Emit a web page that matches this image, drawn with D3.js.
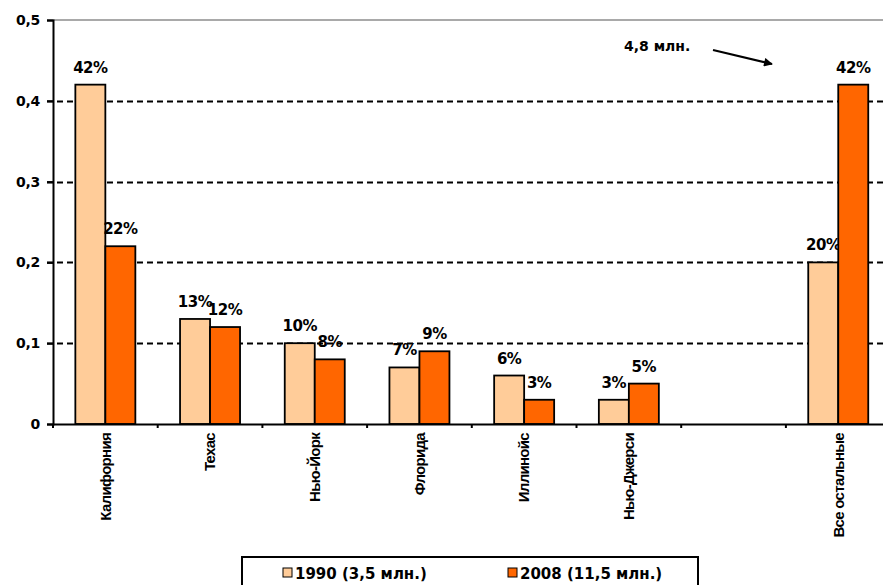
<!DOCTYPE html>
<html>
<head>
<meta charset="utf-8">
<script src="https://cdn.jsdelivr.net/npm/d3@7"></script>
<style>
  html, body { margin: 0; padding: 0; background: #fff; }
  svg { display: block; }
  text { font-family: "DejaVu Sans", "Liberation Sans", Arial, sans-serif; font-weight: bold; fill: #000; }
</style>
</head>
<body>
<svg id="chart" width="883" height="585"></svg>
<script>
const categories = ["Калифорния", "Техас", "Нью-Йорк", "Флорида", "Иллинойс", "Нью-Джерси", "", "Все остальные"];
const values1990 = [0.42, 0.13, 0.10, 0.07, 0.06, 0.03, null, 0.20];
const values2008 = [0.22, 0.12, 0.08, 0.09, 0.03, 0.05, null, 0.42];
const seriesNames = ["1990 (3,5 млн.)", "2008 (11,5 млн.)"];
const seriesColors = ["#FFCC99", "#FF6600"];
const yTicks = [0, 0.1, 0.2, 0.3, 0.4, 0.5];
const yTickLabels = ["0", "0,1", "0,2", "0,3", "0,4", "0,5"];
const annotationText = "4,8 млн.";

(function () {
const svg = d3.select("#chart");
const mLeft = 53, mTop = 20, mBottom = 424, bandW = 104.7;
const mRight = mLeft + bandW * categories.length;

const x = d3.scaleBand().domain(categories.map((c, i) => i)).range([mLeft, mRight]).padding(0);
const y = d3.scaleLinear().domain([0, 0.5]).range([mBottom, mTop]);
const groupW = 60;
const xs = d3.scaleBand().domain([0, 1]).range([0, groupW]).padding(0);

// top border (gray)
svg.append("line").attr("x1", mLeft).attr("x2", 883).attr("y1", mTop).attr("y2", mTop)
  .attr("stroke", "#8c8c8c").attr("stroke-width", 1.5);

// gridlines
svg.append("g").selectAll("line").data(yTicks.filter(t => t > 0 && t < 0.5)).join("line")
  .attr("x1", mLeft - 6).attr("x2", 883)
  .attr("y1", d => Math.round(y(d)) + 0.5).attr("y2", d => Math.round(y(d)) + 0.5)
  .attr("stroke", "#000").attr("stroke-width", 1.8).attr("stroke-dasharray", "6,4");

// bars
const seriesData = [values1990, values2008];
seriesData.forEach((vals, s) => {
  const g = svg.append("g");
  const data = vals.map((v, i) => ({ i, v })).filter(d => d.v != null);
  g.selectAll("rect").data(data).join("rect")
    .attr("x", d => x(d.i) + x.bandwidth() / 2 - groupW / 2 + xs(s))
    .attr("y", d => y(d.v))
    .attr("width", xs.bandwidth())
    .attr("height", d => y(0) - y(d.v))
    .attr("fill", seriesColors[s])
    .attr("stroke", "#000").attr("stroke-width", 1.8);
  g.selectAll("text").data(data).join("text")
    .attr("x", d => x(d.i) + x.bandwidth() / 2 - groupW / 2 + xs(s) + xs.bandwidth() / 2)
    .attr("y", d => y(d.v) - 12)
    .attr("text-anchor", "middle")
    .attr("font-size", 15).attr("letter-spacing", -0.5)
    .text(d => d3.format(".0%")(d.v));
});

// y axis
const yAxis = d3.axisLeft(y).tickValues(yTicks).tickSize(6).tickFormat((d, i) => yTickLabels[i]);
const gy = svg.append("g").attr("transform", `translate(${mLeft},0)`).call(yAxis);
gy.select(".domain").attr("stroke", "#000").attr("stroke-width", 2);
gy.selectAll(".tick line").attr("stroke", "#000").attr("stroke-width", 2);
gy.selectAll(".tick text").attr("x", -13).attr("font-size", 14).attr("letter-spacing", -0.3)
  .style("font-family", "'DejaVu Sans', 'Liberation Sans', Arial, sans-serif").style("font-weight", "bold");

// x axis
const xAxis = d3.axisBottom(x).tickSize(0).tickFormat((d) => categories[d]);
const gx = svg.append("g").attr("transform", `translate(0,${mBottom})`).call(xAxis);
gx.select(".domain").attr("stroke", "#000").attr("stroke-width", 2);
gx.selectAll(".tick text")
  .attr("transform", "rotate(-90)")
  .attr("x", -9).attr("y", 0).attr("dy", "0.35em")
  .attr("text-anchor", "end")
  .attr("font-size", 15).attr("letter-spacing", -0.7)
  .style("font-family", "'Liberation Sans Narrow', 'Liberation Sans', Arial, sans-serif").style("font-weight", "bold");
// band boundary ticks
gx.append("g").selectAll("line").data(d3.range(categories.length + 1)).join("line")
  .attr("x1", i => mLeft + i * bandW).attr("x2", i => mLeft + i * bandW)
  .attr("y1", 0).attr("y2", 4).attr("stroke", "#000").attr("stroke-width", 2);

// annotation
svg.append("text").attr("x", 624).attr("y", 51).attr("font-size", 14).attr("letter-spacing", 0).text(annotationText);
svg.append("defs").append("marker").attr("id", "arr").attr("viewBox", "0 0 10 10")
  .attr("refX", 9).attr("refY", 5).attr("markerWidth", 5).attr("markerHeight", 4).attr("orient", "auto")
  .append("path").attr("d", "M0,0 L10,5 L0,10 z").attr("fill", "#000");
svg.append("line").attr("x1", 713).attr("y1", 50).attr("x2", 772).attr("y2", 64)
  .attr("stroke", "#000").attr("stroke-width", 2.2).attr("marker-end", "url(#arr)");

// legend
const lg = svg.append("g");
lg.append("rect").attr("x", 242).attr("y", 557).attr("width", 456).attr("height", 40)
  .attr("fill", "none").attr("stroke", "#000").attr("stroke-width", 2);
const legX = [283, 508];
seriesNames.forEach((n, s) => {
  lg.append("rect").attr("x", legX[s]).attr("y", 568).attr("width", 9).attr("height", 9)
    .attr("fill", seriesColors[s]).attr("stroke", "#000").attr("stroke-width", 1);
  lg.append("text").attr("x", legX[s] + 12).attr("y", 579).attr("font-size", 15).attr("letter-spacing", 0).text(n);
});
})();
</script>
</body>
</html>
